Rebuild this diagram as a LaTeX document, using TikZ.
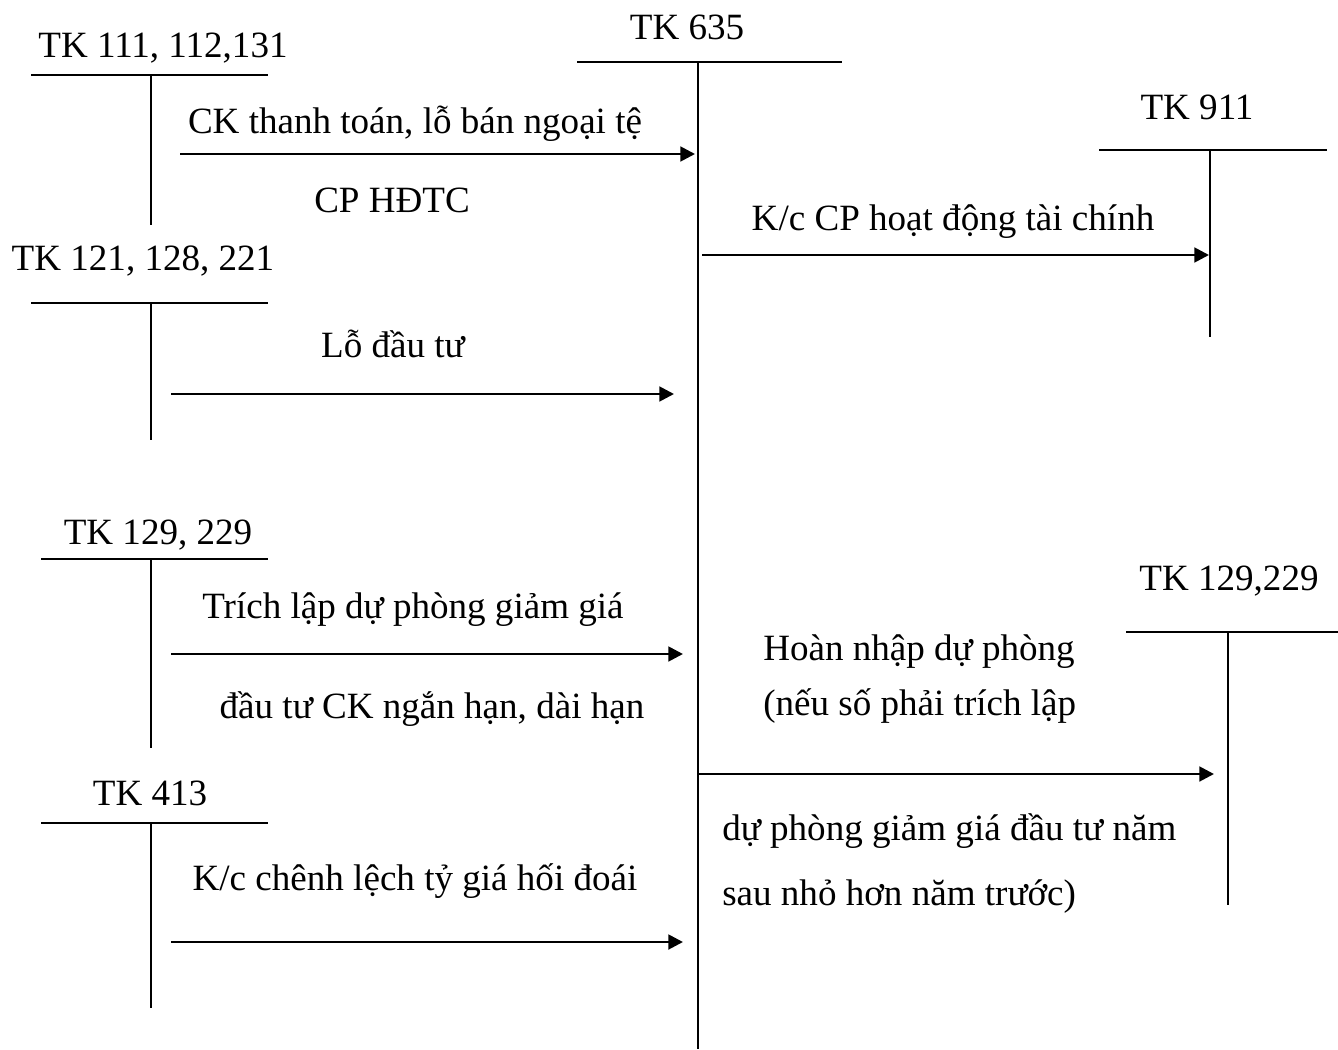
\documentclass[tikz,border=0pt]{standalone}
\usepackage{fontspec}
\setmainfont{Liberation Serif}
\usetikzlibrary{arrows.meta}
\begin{document}
\begin{tikzpicture}[x=0.75pt,y=-0.75pt,
  tline/.style={line width=1.5pt},
  arr/.style={line width=2.1pt,-{Triangle[length=11pt,width=11pt]}},
  lbl/.style={inner sep=0pt,font=\fontsize{27.8}{33}\selectfont,anchor=base},
  lblw/.style={lbl,anchor=base west}]
\useasboundingbox (0,0) rectangle (1338,1049);

% ---- TK 111, 112,131
\node[lbl] (n111) at (163,58) {TK 111, 112,131};
\coordinate (a111l) at (31,75);  \coordinate (a111r) at (268,75);
\coordinate (a111t) at (151,75); \coordinate (a111b) at (151,225);
\draw[tline] (a111l) -- (a111r);
\draw[tline] (a111t) -- (a111b);

% ---- TK 121, 128, 221
\node[lbl] (n121) at (143,270) {TK 121, 128, 221};
\coordinate (a121l) at (31,303);  \coordinate (a121r) at (268,303);
\coordinate (a121t) at (151,303); \coordinate (a121b) at (151,440);
\draw[tline] (a121l) -- (a121r);
\draw[tline] (a121t) -- (a121b);

% ---- TK 129, 229 (left)
\node[lbl] (n129l) at (158,544) {TK 129, 229};
\coordinate (a129l) at (41,559);  \coordinate (a129r) at (268,559);
\coordinate (a129t) at (151,559); \coordinate (a129b) at (151,748);
\draw[tline] (a129l) -- (a129r);
\draw[tline] (a129t) -- (a129b);

% ---- TK 413
\node[lbl] (n413) at (150,805) {TK 413};
\coordinate (a413l) at (41,823);  \coordinate (a413r) at (268,823);
\coordinate (a413t) at (151,823); \coordinate (a413b) at (151,1008);
\draw[tline] (a413l) -- (a413r);
\draw[tline] (a413t) -- (a413b);

% ---- TK 635
\node[lbl] (n635) at (687,40) {TK 635};
\coordinate (a635l) at (577,62);  \coordinate (a635r) at (842,62);
\coordinate (a635t) at (698,62); \coordinate (a635b) at (698,1049);
\draw[tline] (a635l) -- (a635r);
\draw[tline] (a635t) -- (a635b);

% ---- TK 911
\node[lbl] (n911) at (1197,119) {TK 911};
\coordinate (a911l) at (1099,150);  \coordinate (a911r) at (1327,150);
\coordinate (a911t) at (1210,150); \coordinate (a911b) at (1210,337);
\draw[tline] (a911l) -- (a911r);
\draw[tline] (a911t) -- (a911b);

% ---- TK 129,229 (right)
\node[lbl] (n129r) at (1229,590) {TK 129,229};
\coordinate (b129l) at (1126,632);  \coordinate (b129r) at (1338,632);
\coordinate (b129t) at (1228,632); \coordinate (b129b) at (1228,905);
\draw[tline] (b129l) -- (b129r);
\draw[tline] (b129t) -- (b129b);

% ---- arrows
\coordinate (e1s) at (180,154);  \coordinate (e1e) at (695,154);
\draw[arr] (e1s) -- (e1e);
\node[lbl] (l1) at (415,133) {CK thanh toán, lỗ bán ngoại tệ};
\node[lbl] (l1b) at (392,212) {CP HĐTC};

\coordinate (e2s) at (171,394);  \coordinate (e2e) at (674,394);
\draw[arr] (e2s) -- (e2e);
\node[lbl] (l2) at (393,357) {Lỗ đầu tư};

\coordinate (e3s) at (702,255);  \coordinate (e3e) at (1209,255);
\draw[arr] (e3s) -- (e3e);
\node[lbl] (l3) at (953,230) {K/c CP hoạt động tài chính};

\coordinate (e4s) at (171,654);  \coordinate (e4e) at (683,654);
\draw[arr] (e4s) -- (e4e);
\node[lbl] (l4a) at (413,618) {Trích lập dự phòng giảm giá};
\node[lbl] (l4b) at (432,718) {đầu tư CK ngắn hạn, dài hạn};

\coordinate (e5s) at (171,942);  \coordinate (e5e) at (683,942);
\draw[arr] (e5s) -- (e5e);
\node[lbl] (l5) at (415,890) {K/c chênh lệch tỷ giá hối đoái};

\coordinate (e6s) at (698,774);  \coordinate (e6e) at (1214,774);
\draw[arr] (e6s) -- (e6e);
\node[lblw] (l6a) at (763,660) {Hoàn nhập dự phòng};
\node[lblw] (l6b) at (763,715) {(nếu số phải trích lập};
\node[lblw] (l6c) at (722,840) {dự phòng giảm giá đầu tư năm};
\node[lblw] (l6d) at (722,905) {sau nhỏ hơn năm trước)};
\end{tikzpicture}
\end{document}
